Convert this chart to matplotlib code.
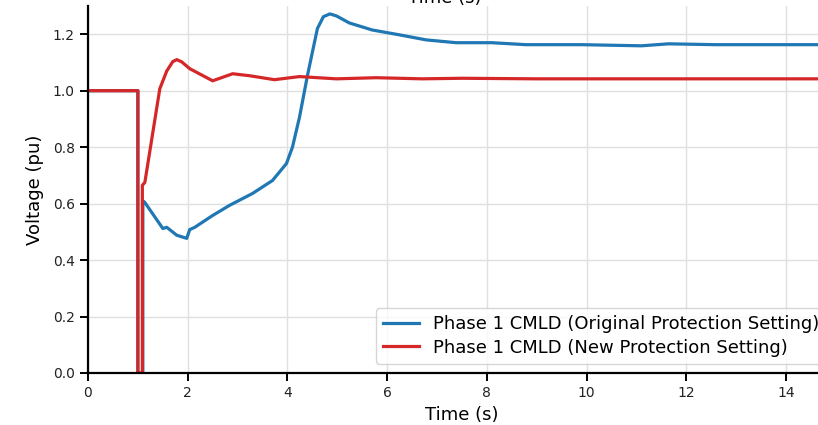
import matplotlib
matplotlib.use("Agg")
import matplotlib.pyplot as plt

# Original protection setting (blue)
t_orig = [0.0, 1.0, 1.0, 1.1, 1.1, 1.14, 1.5, 1.58, 1.78, 1.98, 2.04, 2.14, 2.5, 2.84, 3.3,
          3.7, 3.98, 4.1, 4.24, 4.4, 4.6, 4.72, 4.85, 4.98, 5.24, 5.7, 6.24, 6.78, 7.38, 8.1,
          8.78, 9.9, 11.1, 11.64, 12.58, 13.64, 15.0]
v_orig = [1.0, 1.0, 0.0, 0.0, 0.61, 0.604, 0.512, 0.516, 0.488, 0.477, 0.508, 0.516, 0.558,
          0.594, 0.636, 0.682, 0.742, 0.80, 0.905, 1.053, 1.22, 1.262, 1.272, 1.265, 1.24, 1.215,
          1.198, 1.18, 1.17, 1.17, 1.163, 1.163, 1.159, 1.166, 1.163, 1.163, 1.163]

# New protection setting (red)
t_new = [0.0, 1.0, 1.0, 1.09, 1.09, 1.14, 1.44, 1.58, 1.7, 1.78, 1.88, 2.04, 2.5, 2.9, 3.24, 3.74,
         4.24, 4.98, 5.78, 6.7, 7.5, 9.0, 11.0, 13.0, 15.0]
v_new = [1.0, 1.0, 0.0, 0.0, 0.665, 0.675, 1.007, 1.07, 1.103, 1.11, 1.102, 1.078, 1.035, 1.06, 1.053,
         1.039, 1.05, 1.042, 1.046, 1.042, 1.044, 1.042, 1.042, 1.042, 1.042]

x_ticks = [0, 2, 4, 6, 8, 10, 12, 14]
y_ticks = [0.0, 0.2, 0.4, 0.6, 0.8, 1.0, 1.2]

fig = plt.figure(figsize=(8.18, 4.25), dpi=100)
ax = fig.add_axes([88/818, 52/425, (836-88)/818, (373-6)/425])

ax.plot(t_orig, v_orig, color="#1f77b4", lw=2.3,
        label="Phase 1 CMLD (Original Protection Setting)")
ax.plot(t_new, v_new, color="#d62728", lw=2.3,
        label="Phase 1 CMLD (New Protection Setting)")

ax.set_xlim(0, 15)
ax.set_ylim(0, 1.3)
ax.set_xticks(x_ticks)
ax.set_yticks(y_ticks)
ax.set_xticklabels([str(v) for v in x_ticks])
ax.set_yticklabels([f"{v:.1f}" for v in y_ticks])
ax.tick_params(labelsize=10, width=1.4, length=6, color="black", labelcolor="#222222")
ax.grid(True, color="#e0e0e0", lw=1.0)
ax.set_axisbelow(True)
for s in ["top", "right"]:
    ax.spines[s].set_visible(False)
for s in ["left", "bottom"]:
    ax.spines[s].set_linewidth(1.6)
    ax.spines[s].set_color("black")

ax.set_xlabel("Time (s)", fontsize=13, labelpad=4)
ax.set_ylabel("Voltage (pu)", fontsize=13, labelpad=6)
ax.legend(loc="lower right", fontsize=13, frameon=True, borderaxespad=0.5,
          handlelength=2.0, labelspacing=0.3)

fig.text(0.544, 0.992, "Time (s)", fontsize=13, ha="center", va="baseline")

fig.savefig("out.png", dpi=100)
